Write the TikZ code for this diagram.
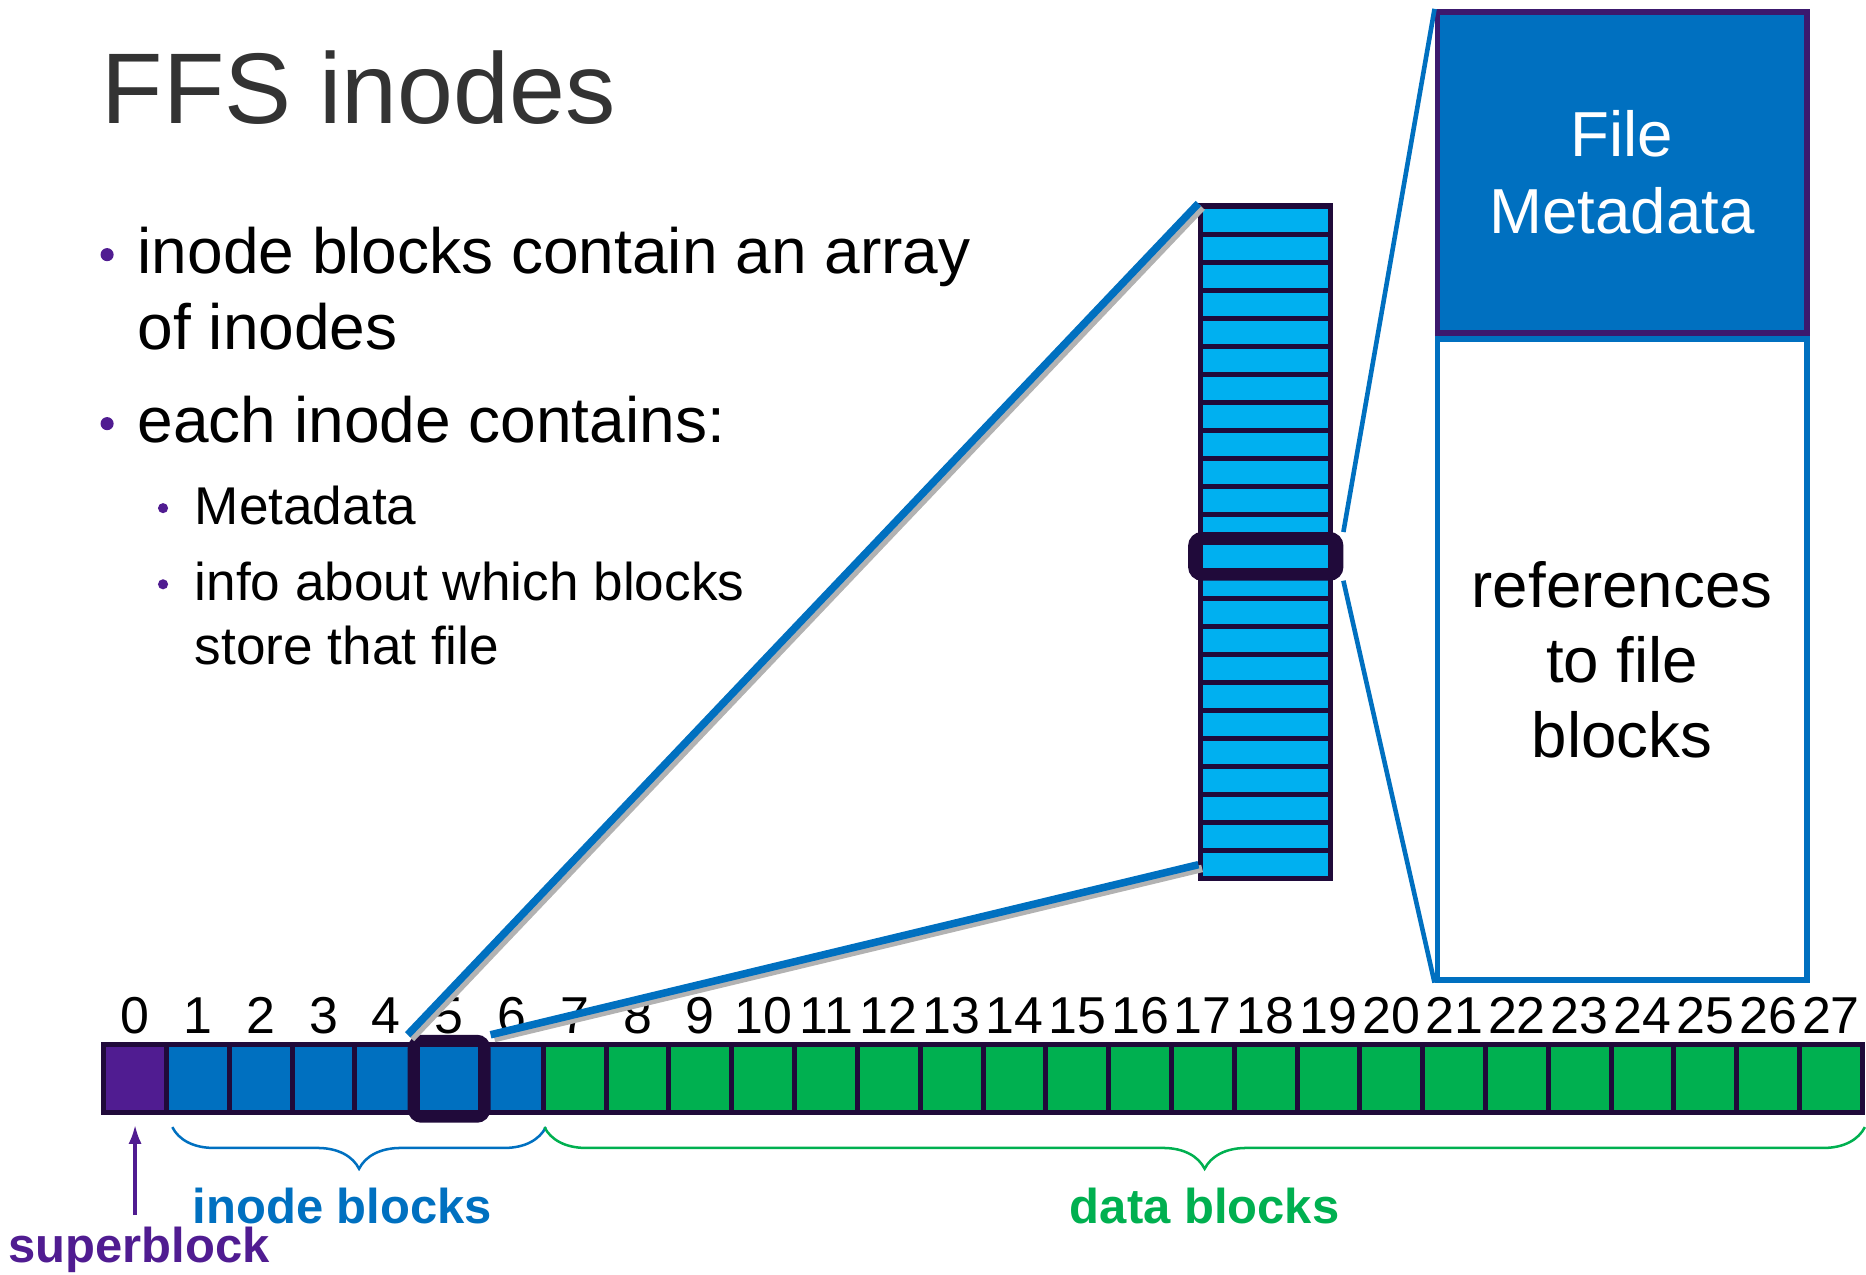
\documentclass[tikz,border=0pt]{standalone}
\usepackage{fontspec}
\setmainfont{Liberation Sans}
\usetikzlibrary{matrix, positioning, fit, arrows.meta, decorations.pathreplacing}

\definecolor{fspurple}{RGB}{80,28,145}
\definecolor{fsblue}{RGB}{0,112,192}
\definecolor{fsgreen}{RGB}{0,176,80}
\definecolor{inodecyan}{RGB}{0,176,240}
\definecolor{blkline}{RGB}{32,10,58}
\definecolor{titlegray}{RGB}{51,51,51}
\definecolor{boxpurple}{RGB}{60,25,110}

\begin{document}
\begin{tikzpicture}[x=0.01cm, y=-0.01cm,
  disk/.style={matrix of nodes, nodes in empty cells, column sep=-1.2pt, row sep=0.7mm,
    nodes={anchor=center, draw=blkline, line width=1.2pt, minimum width=5.275mm, minimum height=5.7mm, inner sep=0pt, fill=fsgreen},
    column 1/.style={nodes={fill=fspurple}},
    column 2/.style={nodes={fill=fsblue}},
    column 3/.style={nodes={fill=fsblue}},
    column 4/.style={nodes={fill=fsblue}},
    column 5/.style={nodes={fill=fsblue}},
    column 6/.style={nodes={fill=fsblue}},
    column 7/.style={nodes={fill=fsblue}},
    row 1/.style={nodes={draw=none, fill=none, minimum height=0pt, font=\fontsize{12.4}{12}\selectfont}}},
  inodes/.style={matrix of nodes, nodes in empty cells, row sep=-1.2pt,
    nodes={draw=blkline, fill=inodecyan, line width=1.2pt, minimum width=10.9mm, minimum height=2.354mm, inner sep=0pt}},
  hilite/.style={draw=blkline, line width=2.6pt, rounded corners=2pt, inner sep=0.5pt},
  zoomline/.style={draw=fsblue, line width=1.8pt, preaction={draw=black!30, line width=1.8pt, transform canvas={shift={(0.9pt,-0.9pt)}}}},
  bigtext/.style={inner sep=0pt, anchor=base west, align=left, font=\fontsize{15.3}{18.2}\selectfont},
  smalltext/.style={inner sep=0pt, anchor=base west, align=left, font=\fontsize{12.7}{15.1}\selectfont},
  bul/.style={circle, fill=fspurple, inner sep=0pt, minimum size=1.1mm},
  subbul/.style={circle, fill=fspurple, inner sep=0pt, minimum size=0.85mm},
  blabel/.style={inner sep=0pt, font=\fontsize{11.7}{12}\selectfont\bfseries}]

  \useasboundingbox (0,0) rectangle (1568,1071);

  % title and bullets (base = last line)
  \node[anchor=base west, inner sep=0pt, text=titlegray, font=\fontsize{24}{28}\selectfont] (title) at (85,104) {FFS inodes};
  \node[bul] (d1) at (90,214) {};
  \node[bigtext] (t1) at (115,294) {inode blocks contain an array\\of inodes};
  \node[bul] (d2) at (90,356) {};
  \node[bigtext] (t2) at (115,372) {each inode contains:};
  \node[subbul] (d3) at (137,427) {};
  \node[smalltext] (t3) at (163,441) {Metadata};
  \node[subbul] (d4) at (137,491) {};
  \node[smalltext] (t4) at (163,558) {info about which blocks\\store that file};

  % the disk
  \matrix[disk, matrix anchor=disk-2-1.west] (disk) at (85,906.5) {
    0 & 1 & 2 & 3 & 4 & 5 & 6 & 7 & 8 & 9 & 10 & 11 & 12 & 13 & 14 & 15 & 16 & 17 & 18 & 19 & 20 & 21 & 22 & 23 & 24 & 25 & 26 & 27 \\
      &   &   &   &   &   &   &   &   &   &    &    &    &    &    &    &    &    &    &    &    &    &    &    &    &    &    &    \\
  };
  \node[hilite, fit=(disk-2-6)] (blk5) {};

  % inode array
  \matrix[inodes, matrix anchor=col-1-1.north west] (col) at (1007,171) {
    \\ \\ \\ \\ \\ \\ \\ \\ \\ \\ \\ \\
    \\ \\ \\ \\ \\ \\ \\ \\ \\ \\ \\ \\
  };
  \node[hilite, fit=(col-13-1), inner xsep=0.4mm, inner ysep=0.2mm] (sel) {};

  % one inode
  \node[fill=fsblue, draw=boxpurple, line width=1.4pt, minimum width=3.1cm, minimum height=2.7cm, text=white, align=center, font=\fontsize{15.2}{18.3}\selectfont] (meta) at (1363,145) {File\\Metadata};
  \node[below=0pt of meta, draw=fsblue, fill=white, line width=1.4pt, minimum width=3.1cm, minimum height=5.38cm, align=center, font=\fontsize{15.2}{17.9}\selectfont] (refs) {references\\to file\\blocks};

  \draw[zoomline] (blk5.north west) -- (col-1-1.north west);
  \draw[zoomline] (blk5.north east) -- (col-24-1.west);
  \draw[draw=fsblue, line width=1.1pt] (sel.north east) -- (meta.north west);
  \draw[draw=fsblue, line width=1.1pt] (sel.south east) -- (refs.south west);

  % braces and labels
  \draw[fsblue, line width=0.6pt, decorate, decoration={brace, mirror, amplitude=3.5mm}]
    ([xshift=0.7mm, yshift=-1mm]disk-2-2.south west) -- ([yshift=-1mm]disk-2-7.south east)
    node[midway, below=5mm, xshift=-1.4mm, blabel, text=fsblue] (ilabel) {inode blocks};
  \draw[fsgreen, line width=0.6pt, decorate, decoration={brace, mirror, amplitude=3.5mm}]
    ([xshift=0.3mm, yshift=-1mm]disk-2-8.south west) -- ([yshift=-1mm]disk-2-28.south east)
    node[midway, below=5mm, blabel, text=fsgreen] (dlabel) {data blocks};

  \node[blabel, text=fspurple] (sb) at (117,1050) {superblock};
  \draw[fspurple, line width=0.8pt, -{Latex[length=1.6mm, width=1.1mm]}, shorten <=0.9mm, shorten >=0.8mm]
    (sb.north -| disk-2-1.south) -- (disk-2-1.south);
\end{tikzpicture}
\end{document}
